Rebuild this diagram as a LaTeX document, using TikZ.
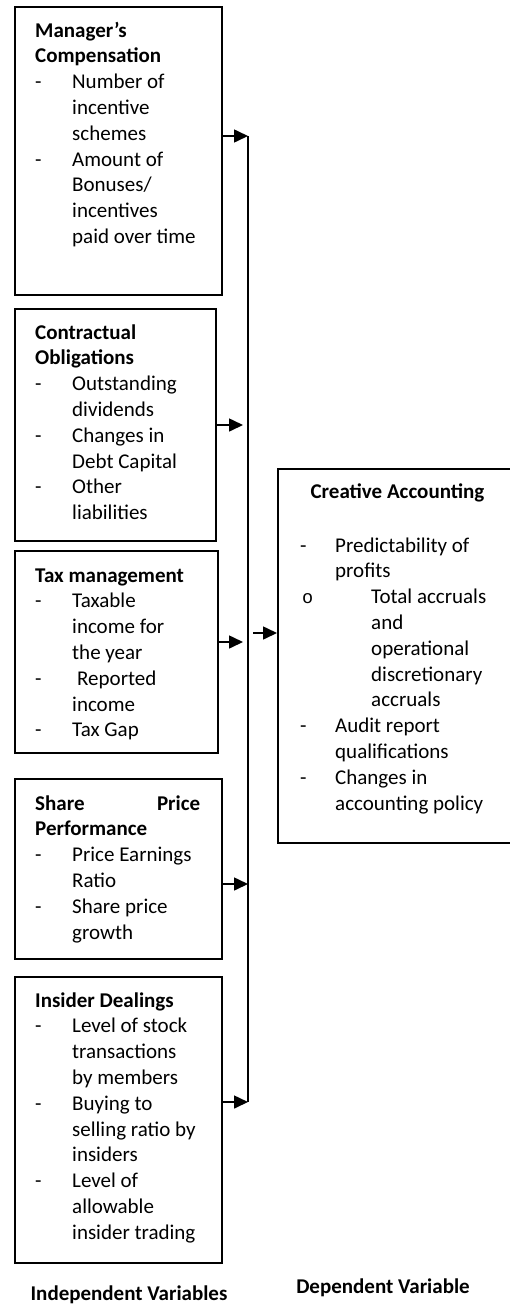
\documentclass[tikz,border=0pt]{standalone}
\usepackage{fontspec}
\setmainfont{Carlito}
\newfontfamily\bulletfont{Liberation Mono}
\usetikzlibrary{arrows.meta}

\newcommand\boxfont{\fontsize{21}{25.8}\selectfont}
\newcommand\dashitem[1][37pt]{\makebox[#1][l]{-}}
\newcommand\dashgap[1][37pt]{\hspace*{#1}}
\newcommand\boxlines[1]{\begin{tabular}[t]{@{}l@{}}#1\end{tabular}}
\newcommand\subbullet{{\bulletfont\fontsize{18.5}{20}\selectfont o}}

\begin{document}
\begin{tikzpicture}[x=1pt,y=-1pt,
  varbox/.style={draw, line width=1.6pt, anchor=north west, inner sep=0pt},
  vartext/.style={anchor=base west, inner sep=0pt, font=\boxfont},
  feed/.style={line width=1.6pt, -{Triangle[length=14pt,width=13pt]}}]
\useasboundingbox (0,0) rectangle (510,1304);

% independent variables
\node[varbox, minimum width=207pt, minimum height=288pt](mgr) at (14,6){};
\node[varbox, minimum width=201pt, minimum height=232pt](con) at (14,308){};
\node[varbox, minimum width=203pt, minimum height=202pt](tax) at (14,550){};
\node[varbox, minimum width=207pt, minimum height=180pt](shr) at (14,778){};
\node[varbox, minimum width=207pt, minimum height=286pt](ins) at (14,976){};

\node[vartext](mgrtxt) at ([shift={(21,31)}]mgr.north west){\boxlines{%
  \textbf{Manager’s}\\
  \textbf{Compensation}\\
  \dashitem Number of\\
  \dashgap incentive\\
  \dashgap schemes\\
  \dashitem Amount of\\
  \dashgap Bonuses/\\
  \dashgap incentives\\
  \dashgap paid over time}};
\node[vartext](contxt) at ([shift={(21,31)}]con.north west){\boxlines{%
  \textbf{Contractual}\\
  \textbf{Obligations}\\
  \dashitem Outstanding\\
  \dashgap dividends\\
  \dashitem Changes in\\
  \dashgap Debt Capital\\
  \dashitem Other\\
  \dashgap liabilities}};
\node[vartext](taxtxt) at ([shift={(21,32)}]tax.north west){\boxlines{%
  \textbf{Tax management}\\
  \dashitem Taxable\\
  \dashgap income for\\
  \dashgap the year\\
  \dashitem\hspace*{5pt}Reported\\
  \dashgap income\\
  \dashitem Tax Gap}};
\node[vartext](shrtxt) at ([shift={(21,32)}]shr.north west){\boxlines{%
  \hbox to 165pt{\textbf{Share}\hfill\textbf{Price}}\\
  \textbf{Performance}\\
  \dashitem Price Earnings\\
  \dashgap Ratio\\
  \dashitem Share price\\
  \dashgap growth}};
\node[vartext](instxt) at ([shift={(21,31)}]ins.north west){\boxlines{%
  \textbf{Insider Dealings}\\
  \dashitem Level of stock\\
  \dashgap transactions\\
  \dashgap by members\\
  \dashitem Buying to\\
  \dashgap selling ratio by\\
  \dashgap insiders\\
  \dashitem Level of\\
  \dashgap allowable\\
  \dashgap insider trading}};

% dependent variable
\node[varbox, minimum width=236pt, minimum height=374pt](cre) at (277,468){};
\node[anchor=base, inner sep=0pt, font=\boxfont\bfseries](cretitle) at (397.5,498){Creative Accounting};
\node[vartext](cretxt) at ([shift={(23,84)}]cre.north west){\boxlines{%
  \dashitem[35pt]Predictability of\\
  \dashgap[35pt]profits\\
  \hspace*{2pt}\makebox[69pt][l]{\subbullet}Total accruals\\
  \dashgap[71pt]and\\
  \dashgap[71pt]operational\\
  \dashgap[71pt]discretionary\\
  \dashgap[71pt]accruals\\
  \dashitem[35pt]Audit report\\
  \dashgap[35pt]qualifications\\
  \dashitem[35pt]Changes in\\
  \dashgap[35pt]accounting policy}};

% connectors
\coordinate (bustop) at (248,136);
\coordinate (busbot) at (248,1102);
\coordinate (c2) at (243,425);
\coordinate (c3) at (243,642);
\coordinate (c4) at (248,884);
\coordinate (c6) at (253,633);
\draw[line width=1.6pt] (bustop) -- (busbot);
\draw[feed] (mgr.east |- bustop) -- (bustop);
\draw[feed] (con.east |- c2) -- (c2);
\draw[feed] (tax.east |- c3) -- (c3);
\draw[feed] (shr.east |- c4) -- (c4);
\draw[feed] (ins.east |- busbot) -- (busbot);
\draw[feed] (c6) -- (cre.west |- c6);

\node[anchor=base, inner sep=0pt, font=\boxfont\bfseries](indep) at (129,1300){Independent Variables};
\node[anchor=base, inner sep=0pt, font=\boxfont\bfseries](dep) at (383,1293){Dependent Variable};
\end{tikzpicture}
\end{document}
